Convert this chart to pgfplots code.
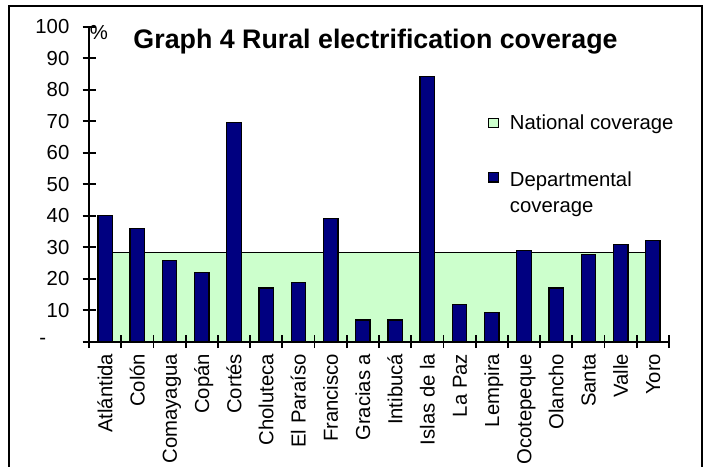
\documentclass[border=0pt]{standalone}
\usepackage{pgfplots}
\usepackage{pgfplotstable}
\pgfplotsset{compat=1.18}
\usepackage{fontspec}
\setmainfont{Liberation Sans}
\definecolor{deptblue}{RGB}{0,0,128}
\definecolor{natgreen}{RGB}{204,255,204}
\newcommand{\lblfont}{\fontsize{20.3bp}{26bp}\selectfont}

% Rural electrification coverage by department (%), with the national level
\pgfplotstableread{
idx dept national
0  40.0 28.4
1  36.0 28.4
2  25.8 28.4
3  22.0 28.4
4  69.6 28.4
5  17.0 28.4
6  18.9 28.4
7  39.2 28.4
8   6.9 28.4
9   6.9 28.4
10 84.2 28.4
11 11.9 28.4
12  9.3 28.4
13 29.0 28.4
14 17.0 28.4
15 27.7 28.4
16 30.9 28.4
17 32.2 28.4
}\coverage

\begin{document}
\begin{tikzpicture}
\useasboundingbox (0bp,0bp) rectangle (705bp,467bp);
\draw[line width=2bp] (9bp,-20bp) rectangle (701.5bp,461bp);
\begin{axis}[
  scale only axis,
  width=580bp, height=315bp,
  at={(89bp,125.3bp)}, anchor=south west,
  xmin=-0.5, xmax=17.5, ymin=0, ymax=100,
  axis x line*=bottom, axis y line*=left,
  axis line style={line width=1.8bp, black},
  axis on top,
  tick align=center,
  major tick length=13bp,
  every tick/.append style={line width=1.8bp, black},
  ytick={0,10,...,100},
  yticklabels={{\makebox[30bp][l]{\raisebox{-2.5bp}{-}}},10,20,30,40,50,60,70,80,90,100},
  xtick={-0.5,0.5,...,17.5},
  xticklabels={},
  extra x ticks={0,...,17},
  extra x tick labels={Atlántida,Colón,Comayagua,Copán,Cortés,Choluteca,El Paraíso,Francisco,Gracias a,Intibucá,Islas de la,La Paz,Lempira,Ocotepeque,Olancho,Santa,Valle,Yoro},
  extra x tick style={major tick length=0pt},
  yticklabel style={font=\lblfont, anchor=east, inner sep=0pt, xshift=-13bp},
  xticklabel style={font=\lblfont, rotate=90, anchor=east, inner sep=0pt, text height=14.5bp, text depth=0pt, xshift=-12bp},
  /pgf/number format/assume math mode=true,
  ylabel={\%},
  ylabel style={rotate=-90, at={(axis description cs:0.0172,0.98)}, anchor=center, font=\lblfont},
  title={Graph 4 Rural electrification coverage},
  title style={at={(axis description cs:0.494,0.9133)}, anchor=base, font=\fontsize{26.8bp}{30bp}\selectfont\bfseries},
  legend style={at={(axis description cs:0.688,0.721)}, anchor=north west, draw=none, fill=none, inner sep=0pt, font=\lblfont, row sep=41bp, column sep=11bp, nodes={inner sep=0pt, align=left}},
  legend cell align=left,
  legend image code/.code={\draw[#1, line width=1.2bp] (0bp,-4.75bp) rectangle (9.5bp,4.75bp);},
]
\addplot[fill=natgreen, draw=black, line width=0.9bp] table[x=idx, y=national]{\coverage} \closedcycle;
\addplot[ybar, bar width=14.4bp, bar shift=0pt, fill=deptblue, draw=black, line width=1.3bp,
  legend image code/.code={\draw[fill=deptblue, draw=black, line width=1.2bp] (0bp,11.25bp) rectangle (9.5bp,20.75bp);}]
  table[x=idx, y=dept]{\coverage};
\legend{National coverage, Departmental\\coverage}
\end{axis}
\end{tikzpicture}
\end{document}
